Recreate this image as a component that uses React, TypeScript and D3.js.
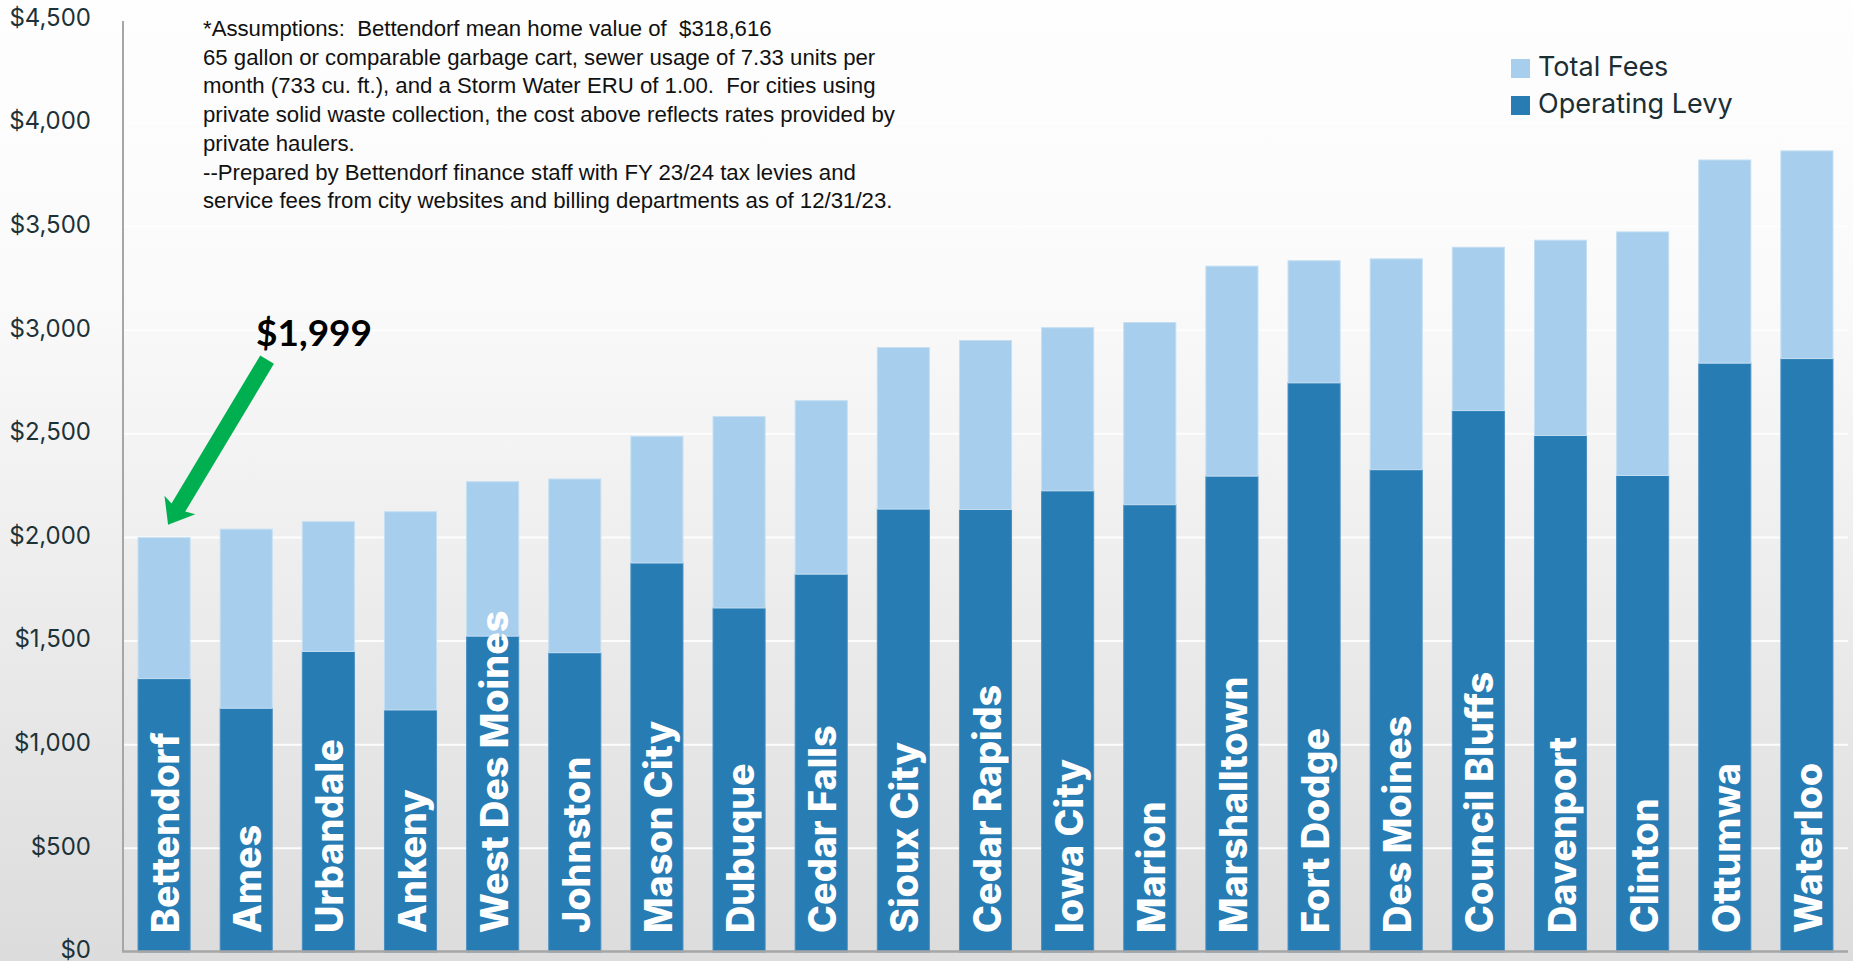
import React, { useEffect } from "react";
import * as d3 from "d3";

const categories = [
  "Bettendorf", "Ames", "Urbandale", "Ankeny", "West Des Moines", "Johnston",
  "Mason City", "Dubuque", "Cedar Falls", "Sioux City", "Cedar Rapids", "Iowa City",
  "Marion", "Marshalltown", "Fort Dodge", "Des Moines", "Council Bluffs", "Davenport",
  "Clinton", "Ottumwa", "Waterloo",
];
const operatingLevy = [
  1319, 1176, 1450, 1168, 1524, 1444, 1877, 1660, 1823, 2137, 2135, 2225,
  2158, 2296, 2746, 2327, 2612, 2492, 2299, 2841, 2863,
];
const totalFees = [
  680, 864, 626, 956, 745, 838, 611, 923, 837, 779, 815, 787,
  879, 1013, 589, 1017, 788, 942, 1175, 980, 1002,
];
const yTicks = [0, 500, 1000, 1500, 2000, 2500, 3000, 3500, 4000, 4500];
const legendItems = [
  { key: "fees", label: "Total Fees" },
  { key: "levy", label: "Operating Levy" },
];
const calloutLabel = "$1,999";
const noteLines = [
  "*Assumptions:  Bettendorf mean home value of  $318,616",
  "65 gallon or comparable garbage cart, sewer usage of 7.33 units per",
  "month (733 cu. ft.), and a Storm Water ERU of 1.00.  For cities using",
  "private solid waste collection, the cost above reflects rates provided by",
  "private haulers.",
  "--Prepared by Bettendorf finance staff with FY 23/24 tax levies and",
  "service fees from city websites and billing departments as of 12/31/23.",
];

const W = 1853;
const H = 961;
const COLORS: Record<string, string> = { levy: "#277CB4", fees: "#A7CEEC" };
const STROKES: Record<string, string> = { levy: "#4A8FC2", fees: "#C4DFF3" };

export default function App() {
  useEffect(() => {
    document.body.style.margin = "0";
  }, []);

  const x = d3.scaleBand<string>().domain(categories).range([123, 1848]).paddingInner(0.366).paddingOuter(0.183);
  const y = d3.scaleLinear().domain([0, 4500]).range([952, 19.25]);

  const rows = categories.map((c, i) => ({ city: c, levy: operatingLevy[i], fees: totalFees[i] }));
  const series = d3.stack<any>().keys(["levy", "fees"])(rows);

  // callout arrow anchored on the first bar
  const first = categories[0];
  const tipX = (x(first) as number) + x.bandwidth() / 2 + 4;
  const tipY = y(operatingLevy[0] + totalFees[0]) - 13;
  const tailX = tipX + 99;
  const tailY = tipY - 165;
  const len = Math.hypot(tipX - tailX, tipY - tailY);
  const dx = (tipX - tailX) / len;
  const dy = (tipY - tailY) / len;
  const nx = -dy;
  const ny = dx;
  const sw = 8, hw = 18, hl = 20;
  const neckX = tipX - dx * hl, neckY = tipY - dy * hl;
  const arrowPts = [
    [tailX + nx * sw, tailY + ny * sw],
    [neckX + nx * sw, neckY + ny * sw],
    [neckX + nx * hw - dx * 3, neckY + ny * hw - dy * 3],
    [tipX, tipY],
    [neckX - nx * hw - dx * 3, neckY - ny * hw - dy * 3],
    [neckX - nx * sw, neckY - ny * sw],
    [tailX - nx * sw, tailY - ny * sw],
  ];

  return (
    <svg width={W} height={H} style={{ position: "absolute", left: 0, top: 0, display: "block" }}>
      <defs>
        <linearGradient id="bg" x1="0" y1="0" x2="0" y2="1">
          <stop offset="0" stopColor="#fefefe" />
          <stop offset="0.3" stopColor="#fafafa" />
          <stop offset="1" stopColor="#dcdcdc" />
        </linearGradient>
      </defs>
      <rect x={0} y={0} width={W} height={H} fill="url(#bg)" />

      {/* gridlines */}
      {yTicks.filter((t) => t > 0).map((t) => (
        <line key={t} x1={124} x2={1848} y1={y(t)} y2={y(t)} stroke="#ffffff" strokeWidth={2} opacity={0.9} />
      ))}

      {/* y tick labels */}
      {yTicks.map((t) => (
        <text
          key={t}
          x={91}
          y={y(t) - 2}
          dy="0.35em"
          textAnchor="end"
          fontFamily="Inter, Lato, sans-serif"
          fontSize={24}
          fill="#1d3238"
        >
          {d3.format("$,")(t)}
        </text>
      ))}

      {/* bars */}
      {series.map((s) => (
        <g key={s.key}>
          {s.map((d: any) => (
            <rect
              key={d.data.city}
              x={x(d.data.city)}
              y={y(d[1])}
              width={x.bandwidth()}
              height={y(d[0]) - y(d[1])}
              fill={COLORS[s.key]}
              stroke={STROKES[s.key]}
              strokeWidth={1}
            />
          ))}
        </g>
      ))}

      {/* bar labels */}
      {categories.map((c) => (
        <text
          key={c}
          transform={`translate(${(x(c) as number) + x.bandwidth() / 2},933) rotate(-90)`}
          x={0}
          y={15}
          fontFamily="Inter, sans-serif"
          fontWeight={800}
          fontSize={37.7}
          fill="#ffffff"
        >
          {c}
        </text>
      ))}

      {/* axes */}
      <line x1={123} x2={123} y1={21} y2={952} stroke="#a6a6a6" strokeWidth={2} />
      <line x1={122} x2={1848} y1={951.5} y2={951.5} stroke="#a6a6a6" strokeWidth={2.5} />

      {/* notes */}
      <text
        fontFamily="'Liberation Sans Narrow', 'Arial Narrow', sans-serif"
        fontSize={22.2}
        fill="#111111"
        style={{ whiteSpace: "pre" }}
        xmlSpace="preserve"
      >
        {noteLines.map((l, i) => (
          <tspan key={i} x={203} y={36 + i * 28.7}>{l}</tspan>
        ))}
      </text>

      {/* legend */}
      {legendItems.map((it, i) => (
        <g key={it.key} transform={`translate(1511,${59 + i * 37})`}>
          <rect x={0} y={0} width={19} height={19} fill={COLORS[it.key]} />
          <text x={27} y={17} fontFamily="Inter, Lato, sans-serif" fontSize={27} fill="#1b2e33">{it.label}</text>
        </g>
      ))}

      {/* callout */}
      <polygon points={arrowPts.map((p) => p.join(",")).join(" ")} fill="#00B050" />
      <text x={tailX - 11} y={tailY - 14} fontFamily="Lato, sans-serif" fontWeight={700} fontSize={37} fill="#000000">
        {calloutLabel}
      </text>
    </svg>
  );
}
